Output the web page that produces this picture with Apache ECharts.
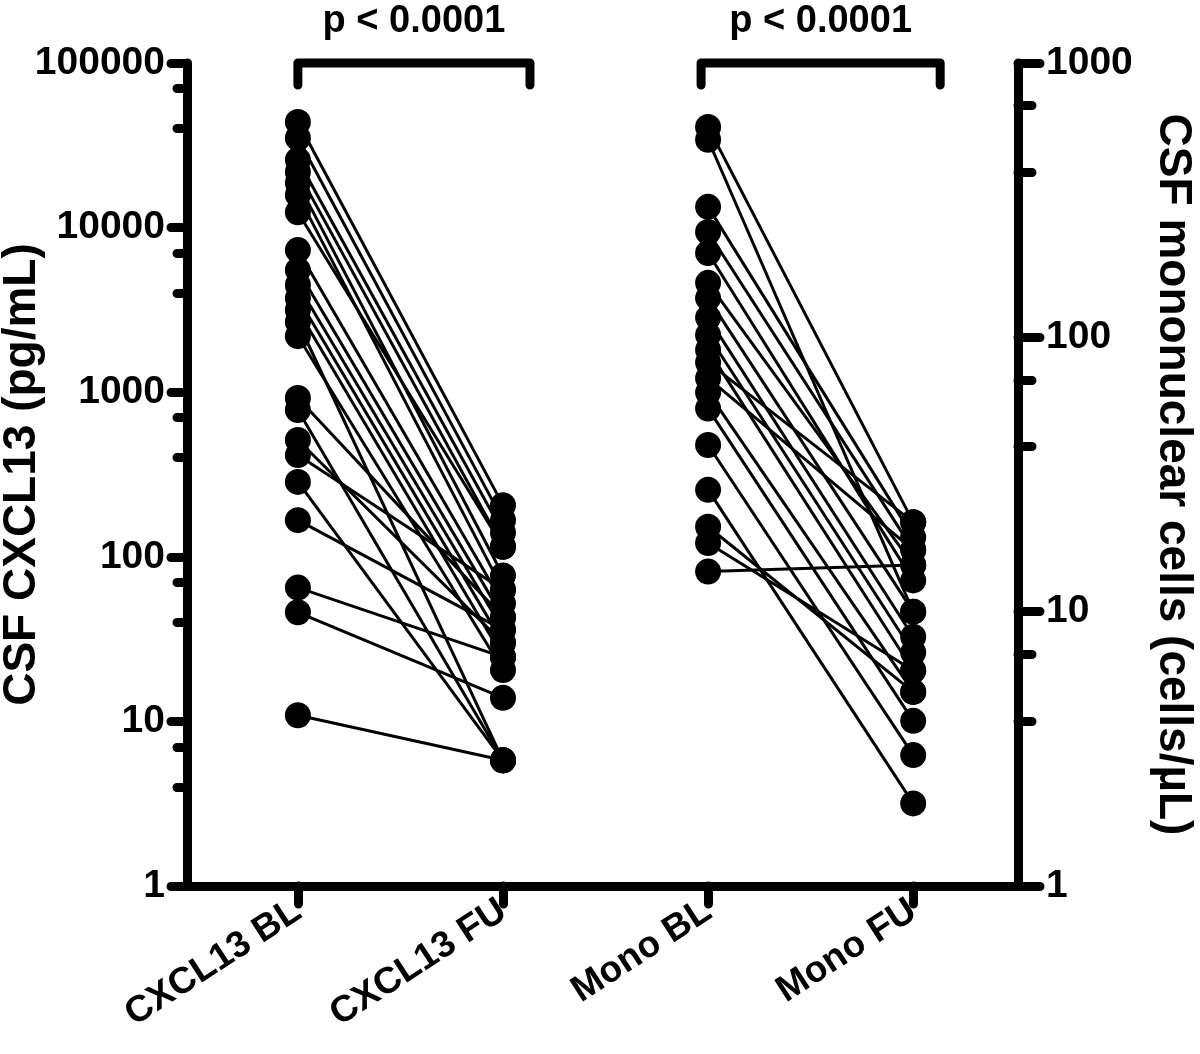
<!DOCTYPE html>
<html><head><meta charset="utf-8">
<script src="https://cdn.jsdelivr.net/npm/echarts@6/dist/echarts.min.js"></script>
<style>html,body{margin:0;padding:0;background:#fff}#c{width:1200px;height:1054px}</style>
</head><body><div id="c"></div>
<script>
const categories = ['CXCL13 BL', 'CXCL13 FU', 'Mono BL', 'Mono FU'];
// CXCL13 (pg/mL), paired by index
const cxclBL = [43800, 35000, 25800, 21800, 18700, 15800, 12400, 7300, 5520, 4480, 3730, 3160, 2670, 2190, 922, 780, 512, 415, 285, 167, 65, 46, 10.9];
const cxclFU = [206, 167, 140, 115, 77, 63, 115, 52, 43, 36, 30, 24.6, 5.8, 20.5, 43, 5.8, 30, 63, 5.8, 36, 24.6, 13.9, 5.8];
// CSF mononuclear cells (cells/µL), paired by index
const monoBL = [585, 525, 299, 242, 203, 158, 139, 118, 102, 90, 81, 71, 63, 55, 40.5, 27.8, 20.4, 17.8, 14.0];
const monoFU = [21.2, 10.0, 18.7, 16.8, 13.0, 14.8, 10.0, 8.1, 7.1, 6.1, 21.2, 16.8, 5.1, 4.0, 3.0, 2.0, 5.1, 6.1, 14.8];
const leftMinor = [4, 7, 40, 70, 400, 700, 4000, 7000, 40000, 70000];
const rightMinor = [4, 7, 40, 70, 400, 700];
const pText = 'p < 0.0001';
const leftTitle = 'CSF CXCL13 (pg/mL)';
const rightTitle = 'CSF mononuclear cells (cells/µL)';

const FONT = '"Liberation Sans", Arial, Helvetica, sans-serif';
const chart = echarts.init(document.getElementById('c'), null, {renderer: 'canvas'});

const series = [];
cxclBL.forEach((v, i) => {
  series.push({type: 'line', xAxisIndex: 0, yAxisIndex: 0, data: [[0, v], [1, cxclFU[i]]],
    symbol: 'circle', symbolSize: 26, showAllSymbol: true, silent: true, animation: false,
    lineStyle: {color: '#000', width: 3}, itemStyle: {color: '#000'}});
});
monoBL.forEach((v, i) => {
  series.push({type: 'line', xAxisIndex: 0, yAxisIndex: 1, data: [[2, v], [3, monoFU[i]]],
    symbol: 'circle', symbolSize: 26, showAllSymbol: true, silent: true, animation: false,
    lineStyle: {color: '#000', width: 3}, itemStyle: {color: '#000'}});
});

const axLine = {show: true, onZero: false, lineStyle: {color: '#000', width: 9, cap: 'round'}};
const tickStyle = {color: '#000', width: 9, cap: 'round'};
const labelStyle = {color: '#000', fontFamily: FONT, fontWeight: 'bold', fontSize: 39,
  formatter: v => String(Math.round(v))};
const nameStyle = {color: '#000', fontFamily: FONT, fontWeight: 'bold', fontSize: 46};

const option = {
  animation: false,
  backgroundColor: '#fff',
  grid: {left: 187, right: 182, top: 63, bottom: 168, containLabel: false, outerBoundsMode: 'none'},
  xAxis: {
    type: 'value', min: -0.5406, max: 3.511, scale: true,
    axisLine: axLine,
    axisTick: {show: true, customValues: [0, 1, 2, 3], length: 18, lineStyle: tickStyle},
    axisLabel: {customValues: [0, 1, 2, 3], rotate: 33, margin: 22, fontSize: 37,
      color: '#000', fontFamily: FONT, fontWeight: 'bold',
      formatter: v => categories[Math.round(v)]},
    splitLine: {show: false}
  },
  yAxis: [
    {type: 'log', logBase: 10, min: 1, max: 100000, position: 'left',
      axisLine: axLine, axisTick: {show: true, length: 16, lineStyle: tickStyle},
      axisLabel: Object.assign({margin: 22}, labelStyle), splitLine: {show: false},
      name: leftTitle, nameLocation: 'middle', nameGap: 142, nameRotate: 90, nameMoveOverlap: false,
      nameTextStyle: nameStyle},
    {type: 'log', logBase: 10, min: 1, max: 1000, position: 'right',
      axisLine: axLine, axisTick: {show: true, length: 22, lineStyle: tickStyle},
      axisLabel: Object.assign({margin: 28}, labelStyle), splitLine: {show: false},
      name: rightTitle, nameLocation: 'middle', nameGap: 132, nameRotate: -90, nameMoveOverlap: false,
      nameTextStyle: nameStyle},
    {type: 'value', min: 0, max: 5, position: 'left',
      axisLine: {show: false, onZero: false}, axisLabel: {show: false}, splitLine: {show: false},
      axisTick: {show: true, length: 10, customValues: leftMinor.map(v => Math.log10(v)), lineStyle: tickStyle}},
    {type: 'value', min: 0, max: 3, position: 'right',
      axisLine: {show: false, onZero: false}, axisLabel: {show: false}, splitLine: {show: false},
      axisTick: {show: true, length: 14, customValues: rightMinor.map(v => Math.log10(v)), lineStyle: tickStyle}}
  ],
  series: series
};
chart.setOption(option);

// significance brackets (annotations)
const x0 = chart.convertToPixel({xAxisIndex: 0}, 0);
const x1 = chart.convertToPixel({xAxisIndex: 0}, 1);
const x2 = chart.convertToPixel({xAxisIndex: 0}, 2);
const x3 = chart.convertToPixel({xAxisIndex: 0}, 3);
const yTop = chart.convertToPixel({yAxisIndex: 0}, 100000);
function bracket(a, b) {
  return [
    {type: 'polyline', shape: {points: [[a, yTop + 22], [a, yTop], [b, yTop], [b, yTop + 22]]},
      style: {stroke: '#000', lineWidth: 9, fill: null, lineCap: 'round', lineJoin: 'round'}, z: 10},
    {type: 'text', x: (a + b) / 2, y: 22,
      style: {text: pText, fill: '#000', font: 'bold 38px ' + FONT, textAlign: 'center', textVerticalAlign: 'middle'}, z: 10}
  ];
}
chart.setOption({graphic: [].concat(bracket(x0, x1 + 27), bracket(x2 - 7, x3 + 27))});
</script></body></html>
